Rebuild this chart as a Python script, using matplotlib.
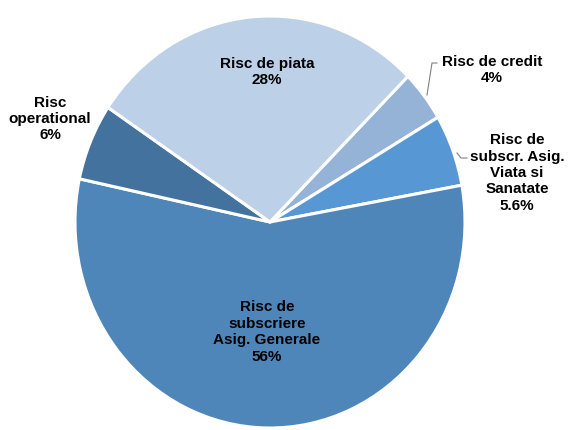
import matplotlib.pyplot as plt
from matplotlib.lines import Line2D

plt.rcParams['font.family'] = ['Liberation Sans', 'DejaVu Sans']

# ordine in sensul acelor de ceasornic, pornind de la Risc de credit
labels = ['Risc de credit', 'Risc de\nsubscr. Asig.\nViata si\nSanatate',
          'Risc de\nsubscriere\nAsig. Generale', 'Risc\noperational', 'Risc de piata']
values = [4, 5.6, 56, 6, 28]
pct_text = ['4%', '5.6%', '56%', '6%', '28%']
colors = ['#95B3D7', '#5797D4', '#4F86BA', '#43729E', '#BCD0E8']

W, H = 568, 430
fig = plt.figure(figsize=(W / 100, H / 100), dpi=100)

# axa pie in pixeli: x 75..465, y 15..427 (de sus)
ax = fig.add_axes([75 / W, (H - 428) / H, 390 / W, 412 / H])
ax.pie(values, colors=colors, startangle=45, counterclock=False,
       wedgeprops=dict(edgecolor='white', linewidth=2.2))
ax.set_aspect('auto')
ax.set_xlim(-1, 1)
ax.set_ylim(-1, 1)
ax.axis('off')

# pozitii etichete (pixeli, de sus)
pos = [(492, 70), (517, 173), (267, 332), (50, 119), (267, 72)]
for lab, pct, (px, py) in zip(labels, pct_text, pos):
    fig.text(px / W, 1 - py / H, lab + '\n' + pct, ha='center', va='center',
             fontsize=11, fontweight='bold', linespacing=1.22)

# linii de legatura
def fline(xs, ys):
    fig.add_artist(Line2D([x / W for x in xs], [1 - y / H for y in ys],
                          color='#808080', linewidth=0.8))

fline([427, 432, 437], [95, 63, 63])
fline([457, 461, 467], [153, 158, 158])

fig.savefig('out.png', dpi=100)
